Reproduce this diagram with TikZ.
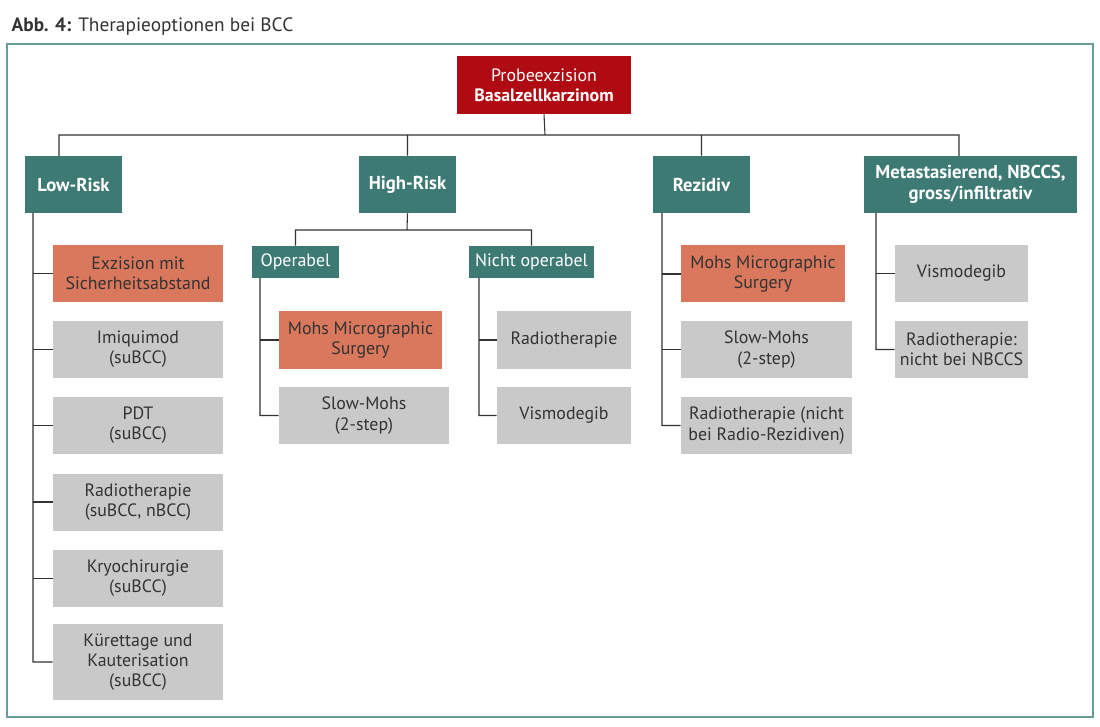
\documentclass[tikz,border=0pt]{standalone}
\usepackage{fontspec}
\setmainfont{PT Sans}
\usepackage{tikz}
\definecolor{bccred}{HTML}{B00B12}
\definecolor{bccteal}{HTML}{3C7A73}
\definecolor{bccorange}{HTML}{D9785C}
\definecolor{bccgray}{HTML}{C9C9C9}
\definecolor{bccframe}{HTML}{6A9D96}
\definecolor{bccline}{HTML}{333333}
\begin{document}
\begin{tikzpicture}[x=0.75pt,y=-0.75pt,
    font=\fontsize{13.4}{15.2}\selectfont,
    box/.style={inner sep=0pt,align=center,minimum height=42.75pt},
    rootbox/.style={box,fill=bccred,text=white,minimum width=130.5pt,minimum height=43.5pt},
    headbox/.style={box,fill=bccteal,text=white,font=\fontsize{14}{15.5}\selectfont\bfseries,minimum width=72.75pt},
    subbox/.style={box,fill=bccteal,text=white,minimum height=24pt},
    hotbox/.style={box,fill=bccorange,text=bccline},
    optbox/.style={box,fill=bccgray,text=bccline},
    link/.style={draw=bccline,line width=0.8pt}]
  \useasboundingbox (0,0) rectangle (1100,727);
  \node[anchor=west,text=bccline,font=\fontsize{14.5}{16}\selectfont] (title) at (7,27) {\textbf{Abb. 4:} Therapieoptionen bei BCC};
  \draw[bccframe,line width=1pt] (7,44) rectangle (1093,717);

  \node[rootbox] (root) at (544,85) {Probeexzision\\\textbf{Basalzellkarzinom}};
  \node[headbox] (low) at (73.5,184.5) {Low-Risk};
  \node[headbox] (high) at (407.5,184.5) {High-Risk};
  \node[headbox] (rez) at (701.5,184.5) {Rezidiv};
  \node[headbox,minimum width=159.75pt] (meta) at (970.5,184.5) {Metastasierend, NBCCS,\\gross/infiltrativ};

  % Low-Risk
  \node[hotbox,minimum width=127.5pt] (lr1) at (138,273.5) {Exzision mit\\Sicherheitsabstand};
  \node[optbox,minimum width=127.5pt] (lr2) at (138,349.5) {Imiquimod\\(suBCC)};
  \node[optbox,minimum width=127.5pt] (lr3) at (138,425.5) {PDT\\(suBCC)};
  \node[optbox,minimum width=127.5pt] (lr4) at (138,502) {Radiotherapie\\(suBCC, nBCC)};
  \node[optbox,minimum width=127.5pt] (lr5) at (138,578.5) {Kryochirurgie\\(suBCC)};
  \node[optbox,minimum width=127.5pt,minimum height=57pt] (lr6) at (138,662) {Kürettage und\\Kauterisation\\(suBCC)};

  % High-Risk
  \node[subbox,minimum width=65.25pt] (oper) at (295.5,262) {Operabel};
  \node[subbox,minimum width=93.75pt] (nop) at (531.5,262) {Nicht operabel};
  \node[hotbox,minimum width=122.25pt,minimum height=43.5pt] (op1) at (360.5,340) {Mohs Micrographic\\Surgery};
  \node[optbox,minimum width=127.5pt] (op2) at (364,415.5) {Slow-Mohs\\(2-step)};
  \node[optbox,minimum width=100.5pt,minimum height=43.5pt] (np1) at (564,340) {Radiotherapie};
  \node[optbox,minimum width=100.5pt] (np2) at (564,415.5) {Vismodegib};

  % Rezidiv
  \node[hotbox,minimum width=123pt] (rz1) at (763,274) {Mohs Micrographic\\Surgery};
  \node[optbox,minimum width=128.25pt] (rz2) at (766.5,349.5) {Slow-Mohs\\(2-step)};
  \node[optbox,minimum width=128.25pt] (rz3) at (766.5,425.5) {Radiotherapie (nicht\\bei Radio-Rezidiven)};

  % Metastasierend
  \node[optbox,minimum width=99.75pt] (mt1) at (961.5,273.5) {Vismodegib};
  \node[optbox,minimum width=99.75pt] (mt2) at (961.5,349.5) {Radiotherapie:\\nicht bei NBCCS};

  % connectors
  \coordinate (bus) at (545,135);
  \coordinate (lowtop) at (59,156);
  \coordinate (metatop) at (959,156);
  \coordinate (hbus) at (407,230);
  \coordinate (lspine) at (33,213);
  \coordinate (ospine) at (260,278);
  \coordinate (nspine) at (479,278);
  \coordinate (rspine) at (662,213);
  \coordinate (mspine) at (876,213);
  \path[link]
    (root.south) -- (bus)
    (lowtop) |- (bus) -| (metatop)
    (high.north) -- (high.north |- bus)
    (rez.north) -- (rez.north |- bus)
    (high.south) -- (hbus)
    (oper.north) |- (hbus) -| (nop.north)
    (lspine) |- (lr6.west)
    (ospine) |- (op2.west)
    (nspine) |- (np2.west)
    (rspine) |- (rz3.west)
    (mspine) |- (mt2.west);
  \foreach \c in {lr1,lr2,lr3,lr4,lr5}
    \draw[link] (lspine |- \c.west) -- (\c.west);
  \draw[link] (ospine |- op1.west) -- (op1.west);
  \draw[link] (nspine |- np1.west) -- (np1.west);
  \foreach \c in {rz1,rz2}
    \draw[link] (rspine |- \c.west) -- (\c.west);
  \draw[link] (mspine |- mt1.west) -- (mt1.west);
\end{tikzpicture}
\end{document}
